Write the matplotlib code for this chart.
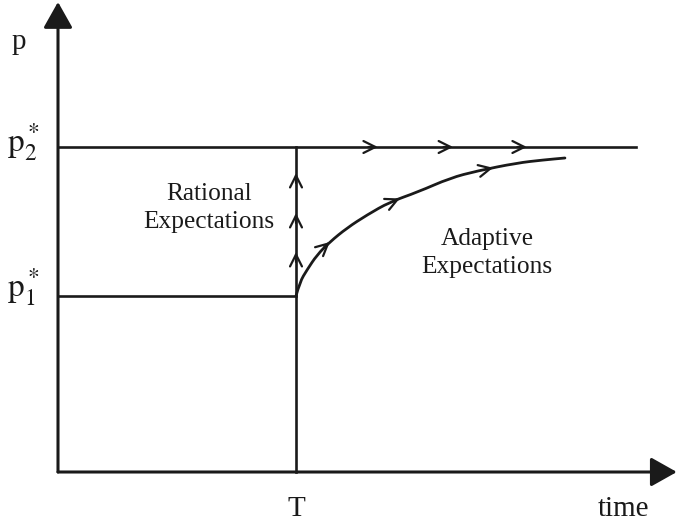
import matplotlib
matplotlib.use('Agg')
import matplotlib.pyplot as plt
from matplotlib.path import Path
from matplotlib.patches import PathPatch
import numpy as np

# livelli di prezzo e istante dello shock
p1 = 3.52
p2 = 6.5
T = 5.0
t_end_top = 12.14
t_axis = 13.0
p_axis = 9.40

# curva aspettative adattive
curva_t = [5.0, 5.08, 5.23, 5.44, 5.71, 6.07, 6.49, 6.97, 7.56, 8.24, 8.80, 9.64, 10.19, 10.65]
curva_p = [3.52, 3.80, 4.04, 4.34, 4.60, 4.88, 5.14, 5.40, 5.60, 5.88, 6.02, 6.18, 6.24, 6.28]

# posizioni delle frecce
frecce_top = [6.72, 8.30, 9.85]
frecce_vert = [4.40, 5.18, 5.98]
frecce_curva = [5.71, 7.18, 9.14]

col = '#1a1a1a'
plt.rcParams['mathtext.fontset'] = 'stix'
serif = 'Liberation Serif'

fig = plt.figure(figsize=(6.8, 5.22), dpi=100)
ax = fig.add_axes([0, 0, 1, 1])
ax.set_xlim(-58 / 47.6, 622 / 47.6)
ax.set_ylim(-1.0, 9.44)
ax.axis('off')

# assi con freccia piena
big = dict(arrowstyle='-|>,head_length=0.8,head_width=0.45', mutation_scale=20,
           color=col, lw=2.2, shrinkA=0, shrinkB=0)
ax.annotate('', xy=(0, p_axis), xytext=(0, 0), arrowprops=big)
ax.annotate('', xy=(t_axis, 0), xytext=(0, 0), arrowprops=big)

# linee
ax.plot([0, t_end_top], [p2, p2], color=col, lw=1.9)
ax.plot([0, T], [p1, p1], color=col, lw=1.9)
ax.plot([T, T], [0, p2], color=col, lw=1.9)

# curva smussata (bezier quadratiche sui punti letti)
pts = list(zip(curva_t, curva_p))
verts = [pts[0]]
codes = [Path.MOVETO]
for i in range(1, len(pts) - 1):
    mid = ((pts[i][0] + pts[i + 1][0]) / 2, (pts[i][1] + pts[i + 1][1]) / 2)
    verts += [pts[i], mid]
    codes += [Path.CURVE3, Path.CURVE3]
verts.append(pts[-1])
codes.append(Path.LINETO)
ax.add_patch(PathPatch(Path(verts, codes), facecolor='none', edgecolor=col, lw=2.0,
                       capstyle='round'))

small = dict(arrowstyle='->,head_length=0.86,head_width=0.43', mutation_scale=10,
             color=col, lw=1.6, shrinkA=0, shrinkB=0)


def freccia(x, y, dx, dy):
    ax.annotate('', xy=(x, y), xytext=(x - dx, y - dy), arrowprops=small)


for x in frecce_top:
    freccia(x, p2, 0.2, 0)
for y in frecce_vert:
    freccia(T, y, 0, 0.2)

ct = np.array(curva_t)
cp = np.array(curva_p)
for x in frecce_curva:
    i = int(np.argmin(np.abs(ct - x)))
    i = min(max(i, 1), len(ct) - 2)
    dx = ct[i + 1] - ct[i - 1]
    dy = cp[i + 1] - cp[i - 1]
    n = np.hypot(dx, dy)
    y = np.interp(x, ct, cp)
    freccia(x, y, 0.15 * dx / n, 0.15 * dy / n)

# testi
ax.text(-0.82, 8.46, 'p', fontsize=21, family=serif, ha='center', va='baseline', color=col)
ax.text(-1.07, 6.42, r'$\mathrm{p}_2^*$', fontsize=24, ha='left', va='baseline', color=col)
ax.text(-1.07, 3.52, r'$\mathrm{p}_1^*$', fontsize=24, ha='left', va='baseline', color=col)
ax.text(T, -0.88, 'T', fontsize=21, family=serif, ha='center', va='baseline', color=col)
ax.text(11.87, -0.88, 'time', fontsize=21, family=serif, ha='center', va='baseline', color=col)
ax.text(3.17, 5.28, 'Rational\nExpectations', fontsize=18.3, family=serif,
        ha='center', va='center', linespacing=1.38, color=col)
ax.text(9.01, 4.38, 'Adaptive\nExpectations', fontsize=18.3, family=serif,
        ha='center', va='center', linespacing=1.38, color=col)

fig.savefig('out.png', dpi=100)
